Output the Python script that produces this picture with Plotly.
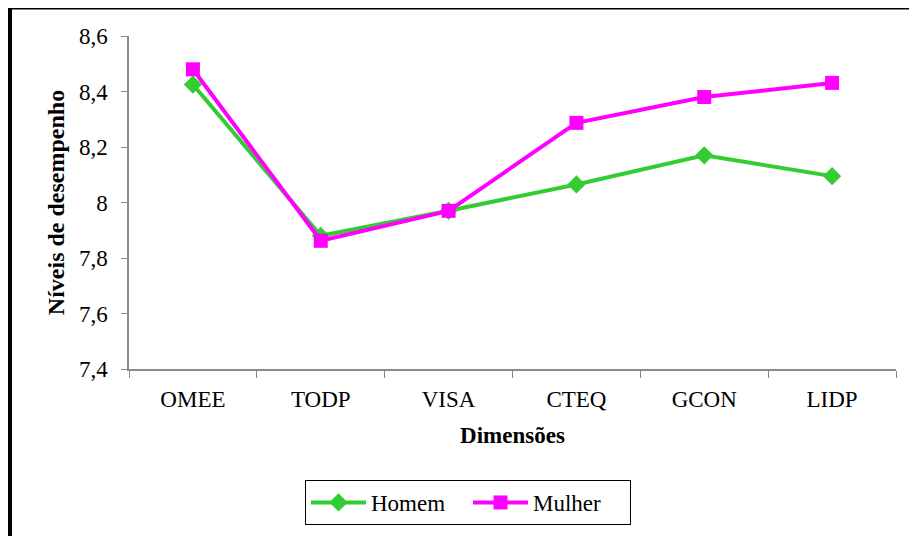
import plotly.graph_objects as go

categories = ["OMEE", "TODP", "VISA", "CTEQ", "GCON", "LIDP"]
homem = [8.425, 7.880, 7.970, 8.065, 8.170, 8.095]
mulher = [8.480, 7.862, 7.970, 8.287, 8.380, 8.431]
y_ticks = [7.4, 7.6, 7.8, 8.0, 8.2, 8.4, 8.6]

FONT = "Liberation Serif"
AXC = "#8a8a8a"

fig = go.Figure()
fig.add_trace(go.Scatter(
    x=categories, y=homem, name="Homem", mode="lines+markers",
    line=dict(color="#33CC33", width=4),
    marker=dict(symbol="diamond", size=14, color="#33CC33"),
))
fig.add_trace(go.Scatter(
    x=categories, y=mulher, name="Mulher", mode="lines+markers",
    line=dict(color="#FF00FF", width=4),
    marker=dict(symbol="square", size=14, color="#FF00FF"),
))

# page body has an 8px default margin; work in screen coords and offset
OX, OY = 8, 8
W, H = 917 - OX, 536 - OY
PL, PR, PT, PB = 129, 896, 36, 369   # plot area in screen px
L, R, T, B = PL - OX, W - (PR - OX), PT - OY, H - (PB - OY)
pw, ph = W - L - R, H - T - B

def px(x):
    return (x - PL) / pw

def py(y):
    return (PB - y) / ph

fig.update_layout(
    width=W, height=H,
    margin=dict(l=L, r=R, t=T, b=B, autoexpand=False),
    paper_bgcolor="white", plot_bgcolor="white",
    separators=",.",
    font=dict(family=FONT, size=23, color="black"),
    showlegend=True,
    legend=dict(
        orientation="h", x=px(468), xanchor="center", y=py(480), yanchor="top",
        bordercolor="black", borderwidth=1, bgcolor="white",
        font=dict(family=FONT, size=23, color="black"),
        itemwidth=55, entrywidth=92,
    ),
    xaxis=dict(
        type="category", range=[-0.5, 5.5],
        showline=True, linecolor=AXC, linewidth=1.5,
        ticks="outside", tickson="boundaries", ticklen=7, tickcolor=AXC,
        ticklabelstandoff=9,
        showgrid=False, zeroline=False,
        tickfont=dict(family=FONT, size=23),
        title=dict(text="<b>Dimensões</b>", font=dict(family=FONT, size=23), standoff=16),
    ),
    yaxis=dict(
        range=[7.4, 8.6], tickvals=y_ticks,
        showline=True, linecolor=AXC, linewidth=1.5,
        ticks="outside", ticklen=6, tickcolor=AXC,
        ticklabelstandoff=9,
        showgrid=False, zeroline=False,
        tickfont=dict(family=FONT, size=23),
        title=dict(text="<b>Níveis de desempenho</b>", font=dict(family=FONT, size=24), standoff=8),
    ),
    shapes=[
        dict(type="line", xref="paper", yref="paper",
             x0=px(10), x1=px(10), y0=py(6), y1=py(545),
             line=dict(color="black", width=4)),
        dict(type="line", xref="paper", yref="paper",
             x0=px(8), x1=px(925), y0=py(7.5), y1=py(7.5),
             line=dict(color="black", width=4)),
    ],
)

fig.write_html("out.html")
